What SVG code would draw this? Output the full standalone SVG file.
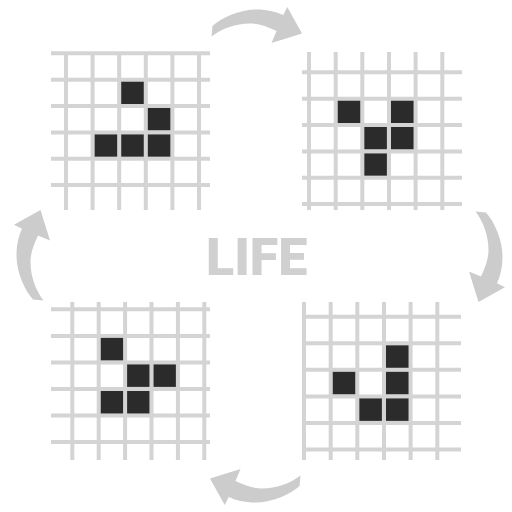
<svg xmlns="http://www.w3.org/2000/svg" width="512" height="512" viewBox="0 0 512 512">
<style>
.grid line{stroke:#d4d4d4;stroke-width:4}
.cell{fill:#2b2b2b}
.arrow{fill:#cccccc}
.title{font-family:Roboto,"Liberation Sans",sans-serif;font-weight:900;font-size:52px;fill:#d0d0d0;text-anchor:middle}
</style>
<defs>
<path id="arr" d="M212.5,26 C222,17.5 240,9.5 256,9.5 C268,9.5 277,12 283.3,15 L287.3,7 L302,33.5 L271.5,43 L276.5,31 C266,26 258,23.5 250,23.5 C236,23.5 222,28.5 211.5,36.5 Z"/>
</defs>
<rect width="512" height="512" fill="#ffffff"/>
<g id="connectors">
<use href="#arr" class="arrow"/>
<use href="#arr" class="arrow" transform="rotate(90 256 256)"/>
<use href="#arr" class="arrow" transform="rotate(180 256 256)"/>
<use href="#arr" class="arrow" transform="translate(7 0) rotate(270 256 256)"/>
</g>
<g id="grid-tl">
<g class="grid">
<line x1="51" y1="53.3" x2="210" y2="53.3"/><line x1="51" y1="79.7" x2="210" y2="79.7"/><line x1="51" y1="106" x2="210" y2="106"/><line x1="51" y1="132.4" x2="210" y2="132.4"/><line x1="51" y1="158.7" x2="210" y2="158.7"/><line x1="51" y1="185" x2="210" y2="185"/>
<line x1="66" y1="52" x2="66" y2="210"/><line x1="92.6" y1="52" x2="92.6" y2="210"/><line x1="119.2" y1="52" x2="119.2" y2="210"/><line x1="145.8" y1="52" x2="145.8" y2="210"/><line x1="172.4" y1="52" x2="172.4" y2="210"/><line x1="199" y1="52" x2="199" y2="210"/>
</g>
<rect class="cell" x="121.2" y="81.7" width="22.6" height="22.3"/>
<rect class="cell" x="147.8" y="108" width="22.6" height="22.3"/>
<rect class="cell" x="94.6" y="134.4" width="22.6" height="22.3"/>
<rect class="cell" x="121.2" y="134.4" width="22.6" height="22.3"/>
<rect class="cell" x="147.8" y="134.4" width="22.6" height="22.3"/>
</g>
<g id="grid-tr">
<g class="grid">
<line x1="302" y1="72.3" x2="462" y2="72.3"/><line x1="302" y1="98.7" x2="462" y2="98.7"/><line x1="302" y1="125" x2="462" y2="125"/><line x1="302" y1="151.4" x2="462" y2="151.4"/><line x1="302" y1="177.7" x2="462" y2="177.7"/><line x1="302" y1="204" x2="462" y2="204"/>
<line x1="309" y1="52" x2="309" y2="210"/><line x1="335.7" y1="52" x2="335.7" y2="210"/><line x1="362.3" y1="52" x2="362.3" y2="210"/><line x1="389" y1="52" x2="389" y2="210"/><line x1="415.6" y1="52" x2="415.6" y2="210"/><line x1="442.3" y1="52" x2="442.3" y2="210"/>
</g>
<rect class="cell" x="337.7" y="100.7" width="22.6" height="22.3"/>
<rect class="cell" x="364.3" y="127" width="22.6" height="22.3"/>
<rect class="cell" x="391" y="100.7" width="22.6" height="22.3"/>
<rect class="cell" x="391" y="127" width="22.6" height="22.3"/>
<rect class="cell" x="364.3" y="153.4" width="22.6" height="22.3"/>
</g>
<g id="grid-bl">
<g class="grid">
<line x1="51" y1="309.3" x2="210" y2="309.3"/><line x1="51" y1="335.9" x2="210" y2="335.9"/><line x1="51" y1="362.4" x2="210" y2="362.4"/><line x1="51" y1="389" x2="210" y2="389"/><line x1="51" y1="415.5" x2="210" y2="415.5"/><line x1="51" y1="442" x2="210" y2="442"/>
<line x1="72.3" y1="302" x2="72.3" y2="460"/><line x1="98.7" y1="302" x2="98.7" y2="460"/><line x1="125.1" y1="302" x2="125.1" y2="460"/><line x1="151.5" y1="302" x2="151.5" y2="460"/><line x1="177.9" y1="302" x2="177.9" y2="460"/><line x1="204.3" y1="302" x2="204.3" y2="460"/>
</g>
<rect class="cell" x="100.7" y="337.9" width="22.4" height="22.5"/>
<rect class="cell" x="127.1" y="364.4" width="22.4" height="22.5"/>
<rect class="cell" x="153.5" y="364.4" width="22.4" height="22.5"/>
<rect class="cell" x="100.7" y="391" width="22.4" height="22.5"/>
<rect class="cell" x="127.1" y="391" width="22.4" height="22.5"/>
</g>
<g id="grid-br">
<g class="grid">
<line x1="303" y1="316.7" x2="461" y2="316.7"/><line x1="303" y1="343.3" x2="461" y2="343.3"/><line x1="303" y1="369.8" x2="461" y2="369.8"/><line x1="303" y1="396.4" x2="461" y2="396.4"/><line x1="303" y1="422.9" x2="461" y2="422.9"/><line x1="303" y1="449.4" x2="461" y2="449.4"/>
<line x1="304" y1="302" x2="304" y2="460"/><line x1="330.7" y1="302" x2="330.7" y2="460"/><line x1="357.3" y1="302" x2="357.3" y2="460"/><line x1="384" y1="302" x2="384" y2="460"/><line x1="410.6" y1="302" x2="410.6" y2="460"/><line x1="437.3" y1="302" x2="437.3" y2="460"/>
</g>
<rect class="cell" x="386" y="345.3" width="22.6" height="22.5"/>
<rect class="cell" x="386" y="371.8" width="22.6" height="22.5"/>
<rect class="cell" x="332.7" y="371.8" width="22.6" height="22.5"/>
<rect class="cell" x="359.3" y="398.4" width="22.6" height="22.5"/>
<rect class="cell" x="386" y="398.4" width="22.6" height="22.5"/>
</g>
<g id="title">
<text class="title" x="256.7" y="275">LIFE</text>
</g>
</svg>
